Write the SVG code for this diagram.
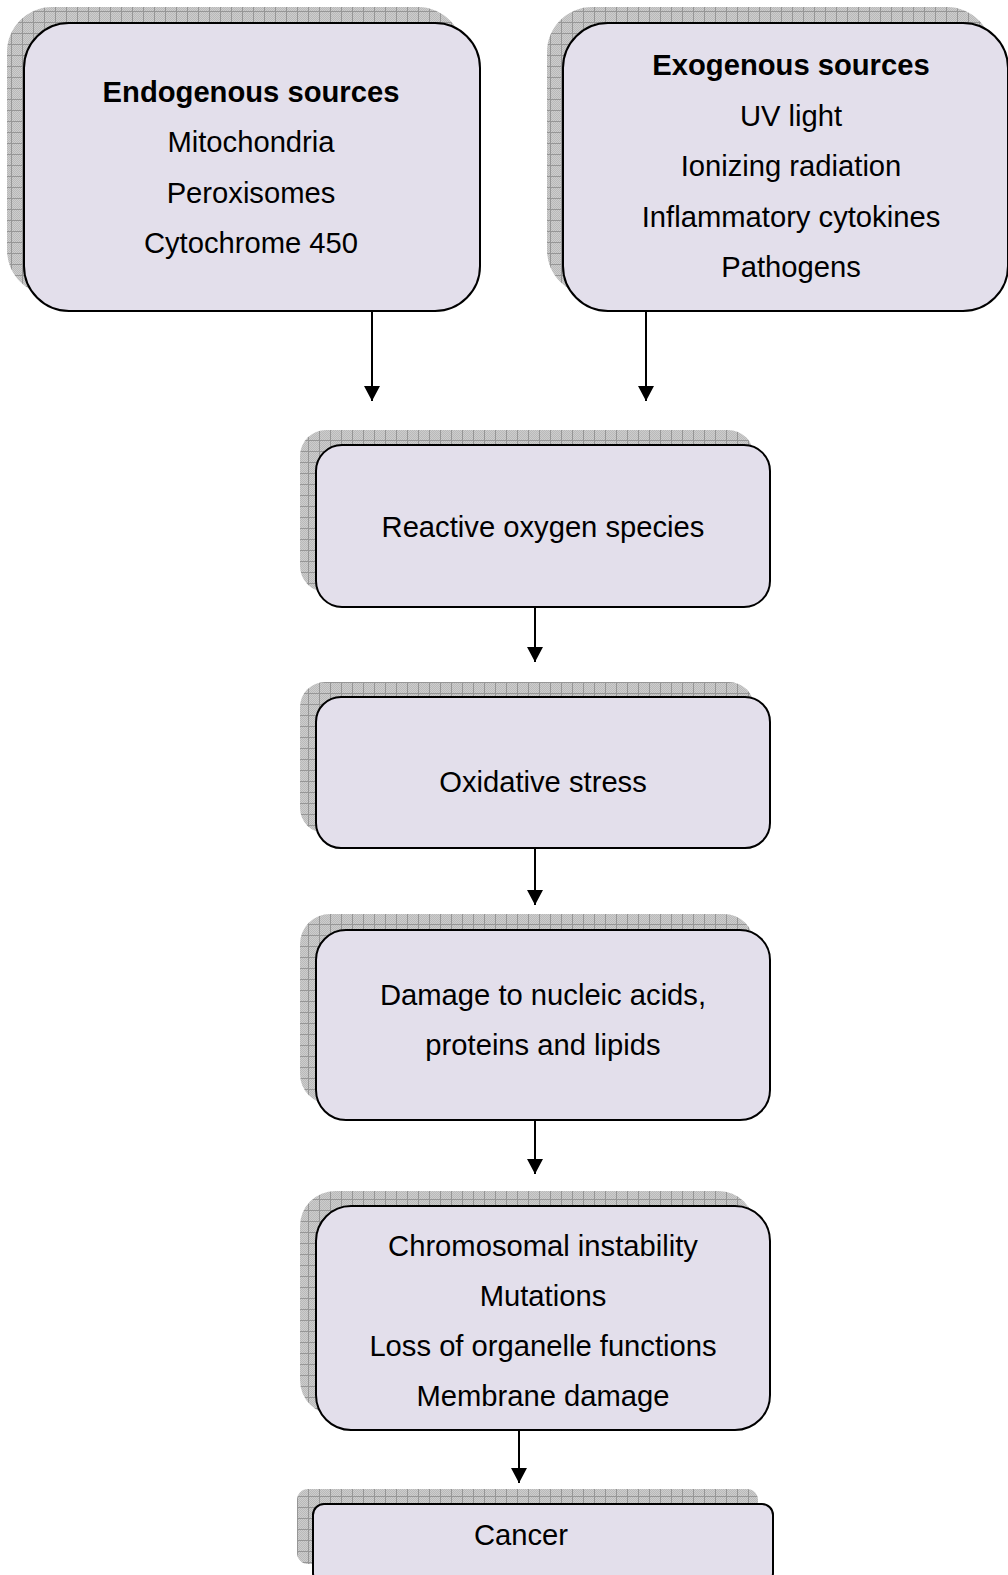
<svg xmlns="http://www.w3.org/2000/svg" width="1008" height="1575" viewBox="0 0 1008 1575">
  <style>
    .box { fill: #e3dfeb; stroke: #000; stroke-width: 2; }
    .shadow { fill: url(#grid); stroke: none; }
    .t { font-family: "Liberation Sans", Arial, sans-serif; font-size: 29.2px; fill: #000; text-anchor: middle; }
    .b { font-weight: bold; }
    .conn { stroke: #000; stroke-width: 2; fill: none; marker-end: url(#arrow); }
  </style>
  <defs>
    <!-- fine checker texture under the shadow grid -->
    <pattern id="checker" width="2" height="2" patternUnits="userSpaceOnUse">
      <rect width="2" height="2" fill="#cdcdcd"/>
      <rect width="1" height="1" fill="#b9b9b9"/>
      <rect x="1" y="1" width="1" height="1" fill="#b9b9b9"/>
    </pattern>
    <pattern id="grid" width="11" height="11" patternUnits="userSpaceOnUse">
      <rect width="11" height="11" fill="url(#checker)"/>
      <rect width="11" height="1" fill="#969696"/>
      <rect width="1" height="11" fill="#969696"/>
    </pattern>
    <marker id="arrow" viewBox="0 0 15 16" refX="15" refY="8" markerWidth="15" markerHeight="16" markerUnits="userSpaceOnUse" orient="auto">
      <path d="M0,0 L15,8 L0,16 Z" fill="#000"/>
    </marker>
  </defs>

  <g id="connectors">
    <line class="conn" x1="372" y1="312" x2="372" y2="401"/>
    <line class="conn" x1="646" y1="312" x2="646" y2="401"/>
    <line class="conn" x1="535" y1="608" x2="535" y2="662"/>
    <line class="conn" x1="535" y1="849" x2="535" y2="905"/>
    <line class="conn" x1="535" y1="1121" x2="535" y2="1174"/>
    <line class="conn" x1="519" y1="1431" x2="519" y2="1483"/>
  </g>

  <g id="endogenous">
    <rect class="shadow" x="7" y="7" width="456" height="288" rx="45"/>
    <rect class="box" x="24" y="23" width="456" height="288" rx="45"/>
    <text class="t b" x="251" y="101.5">Endogenous sources</text>
    <text class="t" x="251" y="152">Mitochondria</text>
    <text class="t" x="251" y="202.5">Peroxisomes</text>
    <text class="t" x="251" y="253">Cytochrome 450</text>
  </g>

  <g id="exogenous">
    <rect class="shadow" x="547" y="7" width="445" height="288" rx="45"/>
    <rect class="box" x="563" y="23" width="445" height="288" rx="45"/>
    <text class="t b" x="791" y="75.3">Exogenous sources</text>
    <text class="t" x="791" y="125.5">UV light</text>
    <text class="t" x="791" y="175.7">Ionizing radiation</text>
    <text class="t" x="791" y="226.5">Inflammatory cytokines</text>
    <text class="t" x="791" y="277">Pathogens</text>
  </g>

  <g id="ros">
    <rect class="shadow" x="300" y="430" width="454" height="162" rx="26"/>
    <rect class="box" x="316" y="445" width="454" height="162" rx="26"/>
    <text class="t" x="543" y="537.4">Reactive oxygen species</text>
  </g>

  <g id="oxidative-stress">
    <rect class="shadow" x="300" y="682" width="454" height="151" rx="25"/>
    <rect class="box" x="316" y="697" width="454" height="151" rx="25"/>
    <text class="t" x="543" y="791.5">Oxidative stress</text>
  </g>

  <g id="damage">
    <rect class="shadow" x="300" y="914" width="454" height="190" rx="30"/>
    <rect class="box" x="316" y="930" width="454" height="190" rx="30"/>
    <text class="t" x="543" y="1004.5">Damage to nucleic acids,</text>
    <text class="t" x="543" y="1054.7">proteins and lipids</text>
  </g>

  <g id="consequences">
    <rect class="shadow" x="300" y="1191" width="454" height="224" rx="35"/>
    <rect class="box" x="316" y="1206" width="454" height="224" rx="35"/>
    <text class="t" x="543" y="1255.6">Chromosomal instability</text>
    <text class="t" x="543" y="1305.8">Mutations</text>
    <text class="t" x="543" y="1356">Loss of organelle functions</text>
    <text class="t" x="543" y="1406.3">Membrane damage</text>
  </g>

  <g id="cancer">
    <rect class="shadow" x="297" y="1489" width="461" height="75" rx="11"/>
    <rect class="box" x="313" y="1504" width="460" height="80" rx="11"/>
    <text class="t" x="521" y="1545">Cancer</text>
  </g>
</svg>
